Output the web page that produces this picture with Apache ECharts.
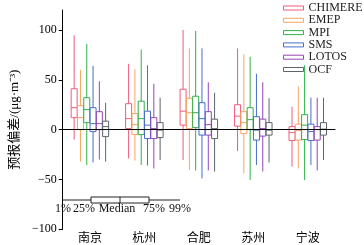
<!DOCTYPE html>
<html>
<head>
<meta charset="utf-8">
<script src="https://cdn.jsdelivr.net/npm/echarts@6/dist/echarts.min.js"></script>
<style>
  html, body { margin: 0; padding: 0; background: #fff; }
  #main { width: 364px; height: 245px; }
</style>
</head>
<body>
<div id="main"></div>
<script>
// 城市
var cities = ['南京', '杭州', '合肥', '苏州', '宁波'];
var models = ['CHIMERE', 'EMEP', 'MPI', 'SMS', 'LOTOS', 'OCF'];
var colors = ['#ef5b7d', '#f6a55e', '#2fb14b', '#4a6ccb', '#9446b8', '#5b656d'];

// 每个城市 [1%, 25%, 中位数, 75%, 99%]
var chimere = [[-10, 12, 22, 41, 94.5], [-29, 1, 11, 26, 66], [-30.5, 4.5, 18.5, 40.5, 100], [-21.5, 3.5, 13.5, 25, 81.5], [-37, -11, -3, 3, 23]];
var emep = [[-32, 0, 12, 24, 60], [-31, -5, 5, 16, 60.5], [-40.5, 1, 17, 31.5, 81.5], [-44, -4, 7, 18, 75.5], [-39, -10.5, -1, 5.5, 43.5]];
var mpi = [[-35.5, 7, 20, 32, 86], [-35.5, -5, 11, 28.5, 80.5], [-41, 2, 17, 33.5, 99], [-50.5, 0, 10, 22, 73], [-50.5, -10, 4.5, 15, 64.5]];
var sms = [[-33, -2, 6, 22, 64], [-36, -9, 4.5, 18.5, 64.5], [-49, -5.5, 11, 27, 81.5], [-35.5, -10.5, -0.5, 13, 56], [-35.5, -11, -2, 5.5, 32]];
var lotos = [[-30, 0, 6, 18, 48.5], [-39, -9, 1, 12, 46], [-41, -5.5, 5, 18, 47.5], [-42, -6.5, 1, 10.5, 47.5], [-41, -10.5, 0, 3, 32]];
var ocf = [[-32, -7, 3, 8.5, 27], [-30.5, -8, -0.5, 7, 32], [-42, -9, 1, 10.5, 37], [-33, -5.5, -0.5, 7, 31.5], [-30.5, -5.5, 0.5, 7, 32]];
var allData = [chimere, emep, mpi, sms, lotos, ocf];

var yTicks = [-100, -50, 0, 50, 100];

var serif = "'Liberation Serif', 'Noto Sans CJK SC', serif";
var cjk = "'Noto Sans CJK SC', 'Liberation Serif', sans-serif";

var chart = echarts.init(document.getElementById('main'));

//画箱线
function makeRender(color, k) {
    return function (params, api) {
        var x = api.coord([api.value(0), 0])[0] + (k - 2.5) * 6.3;
        var lo = api.coord([0, api.value(1)])[1];
        var q1 = api.coord([0, api.value(2)])[1];
        var med = api.coord([0, api.value(3)])[1];
        var q3 = api.coord([0, api.value(4)])[1];
        var hi = api.coord([0, api.value(5)])[1];
        var w = 6;
        var st = { stroke: color, lineWidth: 1, fill: null };
        return {
            type: 'group',
            children: [
                { type: 'line', shape: { x1: x, y1: hi, x2: x, y2: q3 }, style: st },
                { type: 'line', shape: { x1: x, y1: q1, x2: x, y2: lo }, style: st },
                { type: 'rect', shape: { x: x - w / 2, y: q3, width: w, height: q1 - q3 }, style: { stroke: color, lineWidth: 1, fill: 'rgba(0,0,0,0)' } },
                { type: 'line', shape: { x1: x - w / 2, y1: med, x2: x + w / 2, y2: med }, style: st }
            ]
        };
    };
}

var series = [];
for (var k = 0; k < models.length; k++) {
    var d = [];
    for (var i = 0; i < cities.length; i++) {
        d.push([i].concat(allData[k][i]));
    }
    var s = {
        name: models[k],
        type: 'custom',
        renderItem: makeRender(colors[k], k),
        encode: { x: 0, y: [1, 2, 3, 4, 5] },
        itemStyle: { color: colors[k] },
        data: d
    };
    if (k === 0) {
        s.markLine = {
            silent: true,
            symbol: 'none',
            label: { show: false },
            lineStyle: { color: '#000', width: 1, type: 'solid' },
            data: [{ yAxis: 0 }]
        };
    }
    series.push(s);
}

var legendData = models.map(function (m, k) {
    return {
        name: m,
        icon: 'rect',
        itemStyle: { color: 'rgba(0,0,0,0)', borderColor: colors[k], borderWidth: 1 }
    };
});

// 图例里的箱线说明
var keyY = 200;
var graphic = [
    { type: 'line', shape: { x1: 62, y1: keyY, x2: 180, y2: keyY }, style: { stroke: '#222', lineWidth: 1 } },
    { type: 'rect', shape: { x: 91, y: keyY - 3, width: 58, height: 6 }, style: { stroke: '#222', lineWidth: 1, fill: '#fff' } },
    { type: 'line', shape: { x1: 120, y1: keyY - 3, x2: 120, y2: keyY + 3 }, style: { stroke: '#222', lineWidth: 1 } }
];
var keyText = [['1%', 63], ['25%', 84], ['Median', 117], ['75%', 154], ['99%', 180]];
keyText.forEach(function (t) {
    graphic.push({
        type: 'text',
        x: t[1],
        y: keyY + 9,
        style: { text: t[0], fill: '#111', font: '12px ' + serif, align: 'center', verticalAlign: 'middle' }
    });
});

chart.setOption({
    animation: false,
    grid: { left: 45, right: 29, top: 10, bottom: 15.7 },
    legend: {
        orient: 'vertical',
        left: 283,
        top: 2,
        padding: 0,
        itemWidth: 20,
        itemHeight: 4,
        itemGap: 0.3,
        textStyle: { fontFamily: serif, fontSize: 12, color: '#222', lineHeight: 10 },
        data: legendData
    },
    xAxis: {
        type: 'category',
        data: cities,
        axisLine: { lineStyle: { color: '#000', width: 1 } },
        axisTick: { show: false },
        axisLabel: { fontFamily: cjk, fontSize: 12, color: '#000', margin: 2 },
        splitLine: { show: false }
    },
    yAxis: {
        type: 'value',
        min: -100,
        max: 120,
        interval: 50,
        name: '预报偏差/(μg·m⁻³)',
        nameLocation: 'middle',
        nameGap: 20,
        nameTextStyle: { fontFamily: serif, fontSize: 13, color: '#000' },
        axisLine: { show: true, lineStyle: { color: '#000', width: 1 } },
        axisTick: { show: true, length: 4, customValues: yTicks, lineStyle: { color: '#000' } },
        axisLabel: {
            fontFamily: serif, fontSize: 12, color: '#000', margin: 6,
            customValues: yTicks,
            formatter: function (v) { return String(v).replace('-', '−'); }
        },
        splitLine: { show: false }
    },
    graphic: graphic,
    series: series
});
</script>
</body>
</html>
